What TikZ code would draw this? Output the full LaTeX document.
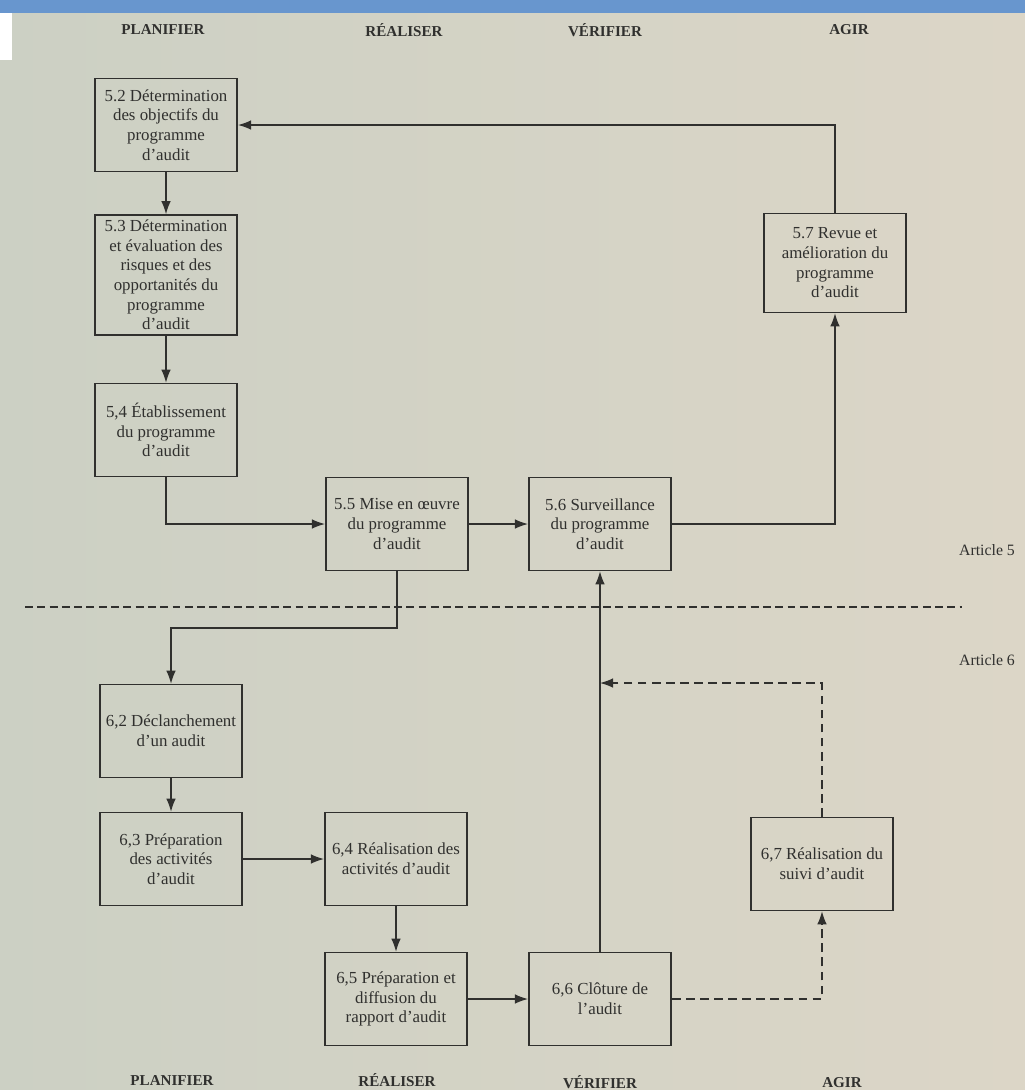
\documentclass[tikz,border=0pt]{standalone}
\usepackage{fontspec}
\setmainfont{Liberation Serif}
\usetikzlibrary{arrows.meta,positioning,calc}
\definecolor{paperL}{RGB}{204,208,196}
\definecolor{paperR}{RGB}{220,214,199}
\definecolor{ink}{RGB}{48,48,46}
\definecolor{barblue}{RGB}{104,150,206}
\tikzset{
  stepbox/.style={draw=ink, line width=0.9pt, align=center, minimum width=2.85cm,
    minimum height=1.86cm, inner sep=2pt, font=\fontsize{9.6}{11.2}\selectfont, text=ink},
  phase/.style={font=\bfseries\fontsize{8.6}{10}\selectfont, text=ink},
  article/.style={font=\fontsize{9}{10}\selectfont, text=ink},
  flow/.style={-{Latex[length=2.6mm, width=1.9mm]}, line width=0.7pt, draw=ink},
  followup/.style={flow, dash pattern=on 5pt off 3pt},
  split/.style={draw=ink, line width=0.7pt, dash pattern=on 4.5pt off 2.5pt}
}

\begin{document}
\begin{tikzpicture}[x=0.02cm, y=-0.02cm]
    \useasboundingbox (0,0) rectangle (1025,1090);
    \shade[left color=paperL, right color=paperR] (0,0) rectangle (1025,1090);
    \fill[barblue] (0,0) rectangle (1025,13);
    \fill[white] (0,13) rectangle (12,60);

    \node[phase] (planT) at (163,30) {PLANIFIER};
    \node[phase] (realT) at (404,30) {RÉALISER};
    \node[phase] (verT) at (605,30) {VÉRIFIER};
    \node[phase] (agirT) at (849,30) {AGIR};

    \node[stepbox] (r52) at (166,125) {5.2 Détermination\\des objectifs du\\programme\\d'audit};
    \node[stepbox, minimum height=2.4cm] (r53) at (166,275) {5.3 Détermination\\et évaluation des\\risques et des\\opportanités du\\programme\\d'audit};
    \node[stepbox] (r54) at (166,430) {5,4 Établissement\\du programme\\d'audit};
    \node[stepbox] (r55) at (397,524) {5.5 Mise en œuvre\\du programme\\d'audit};
    \node[stepbox] (r56) at (600,524) {5.6 Surveillance\\du programme\\d'audit};
    \node[stepbox, minimum height=1.98cm] (r57) at (835,263) {5.7 Revue et\\amélioration du\\programme\\d'audit};

    \node[article] (art5) at (987,550) {Article 5};
    \node[article] (art6) at (987,660) {Article 6};
    \draw[split] (25,607) -- (962,607);

    \node[stepbox] (r62) at (171,731) {6,2 Déclanchement\\d'un audit};
    \node[stepbox] (r63) at (171,859) {6,3 Préparation\\des activités\\d'audit};
    \node[stepbox] (r64) at (396,859) {6,4 Réalisation des\\activités d'audit};
    \node[stepbox] (r65) at (396,999) {6,5 Préparation et\\diffusion du\\rapport d'audit};
    \node[stepbox] (r66) at (600,999) {6,6 Clôture de\\l'audit};
    \node[stepbox] (r67) at (822,864) {6,7 Réalisation du\\suivi d'audit};

    \node[phase] (planB) at (172,1080) {PLANIFIER};
    \node[phase] (realB) at (397,1080) {RÉALISER};
    \node[phase] (verB) at (600,1082) {VÉRIFIER};
    \node[phase] (agirB) at (842,1083) {AGIR};

    \foreach \a/\b in {r52/r53,r53/r54,r55/r56,r62/r63,r63/r64,r64/r65,r65/r66,r66/r56}
      \draw[flow] (\a) -- (\b);
    \draw[flow] (r57.north) |- (r52.east);
    \draw[flow] (r54.south) |- (r55.west);
    \draw[flow] (r56.east) -| (r57.south);
    \coordinate (bend) at (397,628);
    \draw[flow] (r55.south) -- (bend) -| (r62.north);
    \coordinate (join) at (600,683);
    \draw[followup] (r66.east) -| (r67.south);
    \draw[followup] (r67.north) |- (join);
  \end{tikzpicture}
\end{document}
